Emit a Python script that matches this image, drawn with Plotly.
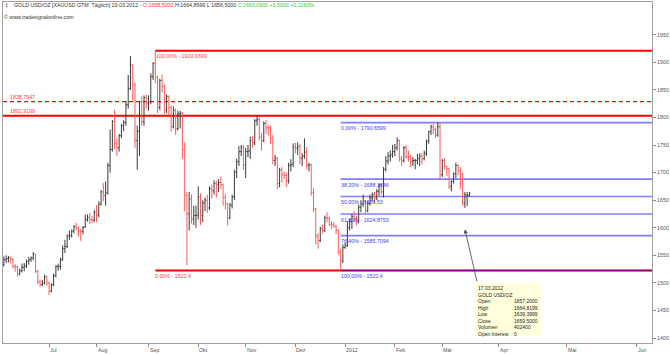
import plotly.graph_objects as go
import pandas as pd

# ---------------- data ----------------
start_date = "2011-06-03"
end_date = "2012-03-19"

opens = [1533,1542,1544,1546,1543,1530,1529,1516,1522,1528,1531,1539,1542,1545,1552,1521,1502,1497,1500,1511,
         1500,1485,1497,1513,1530,1530,1542,1562,1566,1585,1586,1594,1602,1600,1594,1593,1601,1615,1619,1615,1614,
         1628,1623,1643,1665,1658,1663,1713,1742,1793,1753,1745,1767,1785,1791,1823,1852,1895,1860,1758,1775,1828,1792,1836,
         1826,1828,1874,1898,1873,1818,1867,1856,1813,1838,1818,1783,1813,1780,1807,1808,1741,1659,1625,1652,1616,1622,
         1623,1656,1622,1645,1650,1636,1671,1667,1680,1678,1682,1678,1655,1643,1618,1641,1656,1701,1720,1738,1746,
         1714,1738,1739,1758,1754,1794,1796,1765,1758,1789,1781,1781,1762,1722,1726,1680,1705,1696,1695,1685,1713,1715,
         1746,1744,1747,1726,1730,1737,1713,1714,1664,1634,1585,1577,1598,1595,1618,1617,1606,1605,1603,1595,1556,1540,
         1564,1568,1600,1611,1620,1616,1611,1637,1643,1648,1631,1644,1654,1660,1654,1666,1678,1665,1706,1721,1730,1732,
         1738,1745,1758,1725,1722,1745,1729,1729,1720,1722,1722,1725,1730,1725,1735,1757,1774,1783,1778,1768,1783,
         1696,1722,1711,1707,1675,1684,1698,1713,1703,1698,1645,1657.2,1658.5]
highs = [1548,1550,1549,1548,1545,1534,1531,1526,1535,1536,1542,1547,1548,1556,1553,1524,1506,1505,1515,1513,
         1502,1499,1517,1532,1535,1546,1568,1578,1588,1595,1597,1605,1609,1602,1598,1603,1624,1624,1627,1621,1632,
         1641,1648,1668,1681,1684,1718,1778,1795,1814,1762,1770,1788,1795,1830,1877,1911,1896,1863,1785,1830,1838,1840,1842,
         1840,1880,1900,1920.94,1876,1870,1878,1860,1842,1840,1822,1820,1816,1812,1812,1810,1755,1665,1665,1660,1640,1640,
         1675,1662,1650,1655,1660,1675,1678,1686,1685,1688,1693,1680,1662,1645,1645,1660,1705,1725,1748,1750,1750,
         1745,1750,1765,1766,1797,1803,1800,1772,1793,1795,1786,1785,1768,1732,1728,1708,1710,1702,1700,1718,1724,1753,
         1754,1755,1752,1735,1762,1746,1718,1716,1672,1636,1590,1602,1605,1622,1628,1620,1612,1610,1605,1597,1562,1570,
         1573,1612,1616,1625,1630,1622,1642,1650,1660,1650,1648,1660,1664,1665,1670,1680,1680,1710,1730,1737,1740,1750,
         1752,1764,1760,1730,1748,1750,1740,1732,1728,1725,1734,1735,1735,1740,1760,1776,1787,1788,1782,1790.66,1791,
         1725,1726,1712,1708,1686,1700,1718,1715,1710,1700,1665,1664.82,1664.9]
lows = [1530,1536,1537,1535,1526,1520,1512,1514,1519,1521,1527,1533,1538,1541,1518,1497,1493,1494,1497,1495,
        1478,1483,1494,1510,1522,1524,1540,1554,1563,1578,1582,1590,1595,1584,1576,1588,1600,1611,1607,1608,1610,
        1610,1619,1640,1648,1640,1660,1700,1738,1742,1730,1738,1762,1775,1785,1816,1850,1830,1745,1705,1730,1785,1785,1816,
        1812,1824,1868,1862,1808,1813,1845,1806,1808,1805,1774,1780,1768,1776,1780,1725,1630,1532,1595,1608,1605,1600,
        1615,1605,1610,1630,1627,1632,1653,1660,1655,1665,1670,1640,1633,1604,1615,1635,1650,1690,1712,1730,1705,
        1690,1728,1725,1745,1750,1785,1758,1740,1755,1770,1767,1752,1715,1712,1670,1673,1682,1688,1674,1680,1702,1710,
        1735,1732,1715,1712,1725,1706,1702,1658,1628,1570,1562,1574,1590,1592,1610,1603,1598,1600,1588,1551,1522.4,1536,
        1562,1565,1595,1598,1610,1604,1608,1628,1638,1625,1628,1640,1648,1645,1650,1658,1660,1655,1702,1715,1720,1727,
        1730,1740,1720,1712,1718,1725,1720,1710,1712,1706,1715,1712,1715,1722,1730,1752,1768,1770,1763,1765,1688,
        1692,1705,1694,1670,1666,1680,1690,1695,1670,1640,1636,1639.4,1656.5]
closes = [1542,1544,1546,1543,1530,1529,1516,1522,1528,1531,1539,1542,1545,1552,1521,1502,1497,1500,1511,1500,
          1485,1497,1513,1530,1530,1542,1562,1566,1585,1586,1594,1602,1600,1594,1593,1601,1615,1619,1615,1614,1628,
          1623,1643,1665,1658,1663,1713,1742,1793,1753,1745,1767,1785,1791,1823,1852,1895,1860,1758,1775,1828,1792,1836,1826,
          1828,1874,1898,1873,1818,1867,1856,1813,1838,1818,1783,1813,1780,1807,1808,1741,1659,1625,1652,1616,1622,1623,
          1656,1622,1645,1650,1636,1671,1667,1680,1678,1682,1678,1655,1643,1618,1641,1656,1701,1720,1738,1746,1714,
          1738,1739,1758,1754,1794,1796,1765,1758,1789,1781,1781,1762,1722,1726,1680,1705,1696,1695,1685,1713,1715,1746,
          1744,1747,1726,1730,1737,1713,1714,1664,1634,1585,1577,1598,1595,1618,1617,1606,1605,1603,1595,1556,1540,1564,
          1568,1600,1611,1620,1616,1611,1637,1643,1648,1631,1644,1654,1660,1654,1666,1678,1665,1706,1721,1730,1732,1738,
          1745,1758,1725,1722,1745,1729,1729,1720,1722,1722,1725,1730,1725,1735,1757,1774,1783,1778,1768,1783,1696,
          1722,1711,1707,1675,1684,1698,1713,1703,1698,1645,1660,1659.5,1663.09]

month_labels = ["Jul", "Aug", "Sep", "Okt", "Nov", "Dez", "2012", "Feb", "Mär", "Apr", "Mai", "Jun"]
month_starts = ["2011-07-01", "2011-08-01", "2011-09-01", "2011-10-01", "2011-11-01", "2011-12-01",
                "2012-01-01", "2012-02-01", "2012-03-01", "2012-04-01", "2012-05-01", "2012-06-01"]
y_ticks = [1400, 1450, 1500, 1550, 1600, 1650, 1700, 1750, 1800, 1850, 1900, 1950]

# horizontal levels
red_high = 1920.9399
red_low = 1522.4
red_anchor_date = "2011-09-06"
level_solid = 1802.9199
level_dashed = 1828.7947
fib_anchor_date = "2011-12-29"
fib_pcts = ["0,00%", "38,20%", "50,00%", "61,80%", "76,40%", "100,00%"]
fib_values = [1790.6599, 1688.1846, 1656.53, 1624.8753, 1585.7094, 1522.4]
fib_texts = ["1790,6599", "1688,1846", "1656,53", "1624,8753", "1585,7094", "1522,4"]

info_labels = ["Open", "High", "Low", "Close", "Volumen", "Open Interest"]
info_values = ["1657,2000", "1664,8199", "1639,3999", "1659,5000", "402400", "0"]
info_date = "17.03.2012"
info_name = "GOLD USD/OZ"
info_bar_date = "2012-03-16"
info_bar_price = 1597

# ---------------- index axis (trading days, future in calendar days) ----------------
dates = pd.bdate_range(start_date, end_date)
n = len(dates)
xs = list(range(n))
last = dates[-1]


def date_to_idx(d):
    d = pd.Timestamp(d)
    if d <= last:
        return int((dates >= d).argmax())
    return (n - 1) + (d - last).days


tick_idx = [date_to_idx(d) for d in month_starts]
x_min, x_max = -0.4, 286.8
y_min, y_max = 1391.0, 2009.3

FONT = "Arial, Liberation Sans, sans-serif"
FS = 5.3

fig = go.Figure()
fig.add_trace(go.Ohlc(
    x=xs, open=opens, high=highs, low=lows, close=closes,
    increasing=dict(line=dict(color="#3a3a3a", width=1)),
    decreasing=dict(line=dict(color="#ff5a5a", width=1)),
    tickwidth=0.45, hoverinfo="skip", showlegend=False,
))

shapes = []
ia = date_to_idx(red_anchor_date)
fa = date_to_idx(fib_anchor_date)
shapes.append(dict(type="line", xref="x", yref="y", x0=ia, x1=x_max, y0=red_high, y1=red_high,
                   line=dict(color="#ff0000", width=2), layer="below"))
shapes.append(dict(type="line", xref="x", yref="y", x0=ia, x1=x_max, y0=red_low, y1=red_low,
                   line=dict(color="#ff0000", width=2), layer="below"))
shapes.append(dict(type="line", xref="x", yref="y", x0=x_min, x1=x_max, y0=level_solid, y1=level_solid,
                   line=dict(color="#ff0000", width=2), layer="below"))
shapes.append(dict(type="line", xref="x", yref="y", x0=x_min, x1=x_max, y0=level_dashed, y1=level_dashed,
                   line=dict(color="#ff0000", width=1.3, dash="4px,3px"), layer="below"))
for v in fib_values:
    shapes.append(dict(type="line", xref="x", yref="y", x0=fa, x1=x_max, y0=v, y1=v,
                       line=dict(color="rgba(0,0,255,0.5)", width=1.6), layer="below"))

ann = []
red_txt = "#ff3b3b"
blue_txt = "#3c3cff"
ann.append(dict(x=ia, y=red_high, xref="x", yref="y", text="100,00% - 1920,9399", showarrow=False,
                xanchor="left", yanchor="top", xshift=0, yshift=-1.5, borderpad=0,
                font=dict(size=FS, color=red_txt, family=FONT)))
ann.append(dict(x=ia, y=red_low, xref="x", yref="y", text="0,00% - 1522,4", showarrow=False,
                xanchor="left", yanchor="top", xshift=-1, yshift=-1.5, borderpad=0,
                font=dict(size=FS, color=red_txt, family=FONT)))
ann.append(dict(x=x_min, y=level_dashed, xref="x", yref="y", text=f"{level_dashed:.4f}".replace(".", ","),
                showarrow=False, xanchor="left", yanchor="bottom", xshift=6, yshift=0.5, borderpad=0,
                font=dict(size=FS, color=red_txt, family=FONT)))
ann.append(dict(x=x_min, y=level_solid, xref="x", yref="y", text=f"{level_solid:.4f}".replace(".", ","),
                showarrow=False, xanchor="left", yanchor="bottom", xshift=6, yshift=0.5, borderpad=0,
                font=dict(size=FS, color=red_txt, family=FONT)))
for p, v, t in zip(fib_pcts, fib_values, fib_texts):
    ann.append(dict(x=fa, y=v, xref="x", yref="y", text=f"{p} - {t}", showarrow=False,
                    xanchor="left", yanchor="top", xshift=-1, yshift=-1.5, borderpad=0,
                    font=dict(size=FS, color=blue_txt, family=FONT)))

# month labels to the right of their tick
for ti, lab in zip(tick_idx, month_labels):
    ann.append(dict(x=ti, y=0, xref="x", yref="paper", text=lab, showarrow=False,
                    xanchor="left", yanchor="top", xshift=0, yshift=-2.5, borderpad=0,
                    font=dict(size=FS, color="#555555", family=FONT)))

# header
header = ("GOLD USD/OZ [XAUUSD GTM  Täglich] 19.03.2012 - "
          "<span style='color:#ff3030'>O:1658,5000</span> H:1664,8999 L:1656,5000 "
          "<span style='color:#33cc33'>C:1663,0900 +3,5900 +0,2163%</span>")
ann.append(dict(x=0.0139, y=0.991, xref="paper", yref="paper", text=header, showarrow=False,
                xanchor="left", yanchor="middle", font=dict(size=FS, color="#333333", family=FONT)))
ann.append(dict(x=0.0, y=0.991, xref="paper", yref="paper", text="‡", showarrow=False,
                xanchor="left", yanchor="middle", font=dict(size=6, color="#555555", family=FONT)))
ann.append(dict(x=-0.0015, y=0.957, xref="paper", yref="paper", text="© www.tradesignalonline.com",
                showarrow=False, xanchor="left", yanchor="middle", font=dict(size=FS, color="#333333", family=FONT)))

# info box
bx0, bx1, by0, by1 = 0.7288, 0.8290, 0.0205, 0.1760
shapes.append(dict(type="rect", xref="paper", yref="paper", x0=bx0, x1=bx1, y0=by0, y1=by1,
                   fillcolor="#ffffdc", line=dict(width=0), layer="above"))
left_col = "<br>".join([info_date, info_name] + info_labels)
right_col = "<br>".join(["\u00a0", "\u00a0"] + info_values)
ann.append(dict(x=bx0, y=by1, xref="paper", yref="paper", text=left_col, showarrow=False, align="left",
                xanchor="left", yanchor="top", xshift=1, yshift=-1, borderpad=0,
                font=dict(size=5, color="#222222", family=FONT)))
ann.append(dict(x=bx0 + 0.057, y=by1, xref="paper", yref="paper", text=right_col, showarrow=False, align="left",
                xanchor="left", yanchor="top", xshift=0, yshift=-1, borderpad=0,
                font=dict(size=5, color="#222222", family=FONT)))
ann.append(dict(x=date_to_idx(info_bar_date) - 1, y=info_bar_price, xref="x", yref="y",
                ax=n + 2.5, ay=1500, axref="x", ayref="y", text="", showarrow=True,
                arrowhead=2, arrowsize=1, arrowwidth=0.8, arrowcolor="#444444"))

fig.update_layout(
    width=670, height=355, margin=dict(l=3, r=18, t=2, b=12),
    paper_bgcolor="white", plot_bgcolor="white",
    shapes=shapes, annotations=ann, showlegend=False,
    xaxis=dict(range=[x_min, x_max], tickvals=tick_idx, ticktext=[""] * len(tick_idx),
               showticklabels=False, ticks="outside", ticklen=3, tickcolor="#888888",
               showgrid=False, zeroline=False, showline=True, linecolor="#a0a0a0", linewidth=1,
               mirror=True, rangeslider=dict(visible=False), fixedrange=True),
    yaxis=dict(range=[y_min, y_max], side="right", tickvals=y_ticks, ticktext=[str(v) for v in y_ticks],
               ticks="outside", ticklen=3, tickcolor="#888888", showgrid=False, zeroline=False,
               showline=True, linecolor="#a0a0a0", linewidth=1, mirror=True,
               tickfont=dict(size=FS, color="#555555", family=FONT), fixedrange=True),
)
fig.write_html("out.html")
